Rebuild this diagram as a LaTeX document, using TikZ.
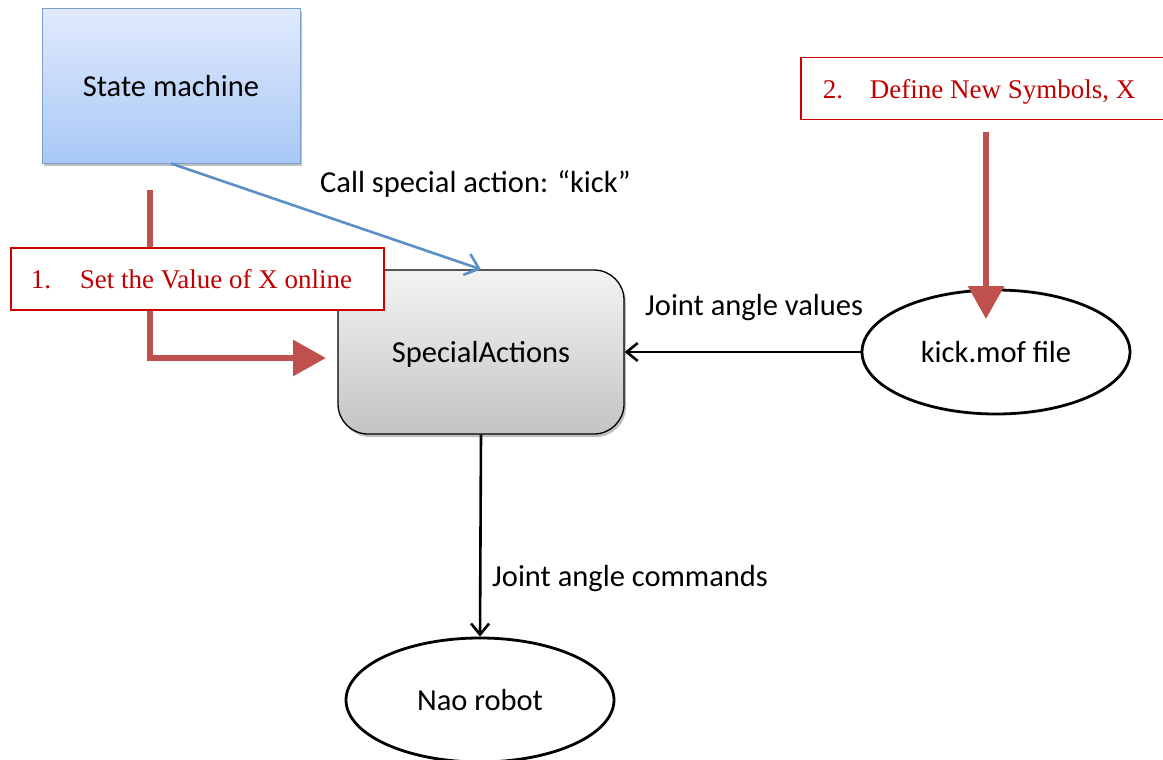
\documentclass[tikz,border=0pt]{standalone}
\usepackage{fontspec}
\setmainfont{Carlito}
\newfontfamily\notefont{Liberation Serif}
\usetikzlibrary{arrows.meta,shapes.geometric,shadows}

\definecolor{smtop}{HTML}{E0EAFC}
\definecolor{smbot}{HTML}{A9C8F6}
\definecolor{smline}{HTML}{7C9FD2}
\definecolor{satop}{HTML}{F3F3F3}
\definecolor{sabot}{HTML}{C4C4C4}
\definecolor{callblue}{HTML}{5B8FC7}
\definecolor{stepred}{HTML}{C0504D}
\definecolor{noteline}{HTML}{CC0000}
\definecolor{notetext}{HTML}{C00000}

\tikzset{
  txt/.style={font=\fontsize{30.5}{36}\selectfont, inner sep=0pt},
  boxtxt/.style={txt, text depth=0pt},
  softshadow/.style={drop shadow={shadow xshift=2pt, shadow yshift=-3pt, opacity=0.25, fill=black}},
  modulebox/.style={draw=smline, line width=1pt, top color=smtop, bottom color=smbot,
    minimum width=258pt, minimum height=154pt, softshadow, boxtxt},
  actionbox/.style={draw=black, line width=1.3pt, rounded corners=30pt, top color=satop,
    bottom color=sabot, minimum width=286pt, minimum height=164pt, softshadow, boxtxt},
  oval/.style={ellipse, draw=black, line width=2.8pt, fill=white,
    minimum width=268pt, minimum height=124pt, boxtxt},
  notebox/.style={draw=noteline, line width=1.8pt, fill=white, text=notetext,
    font=\notefont\fontsize{27}{31}\selectfont, minimum height=62pt,
    inner ysep=0pt, text depth=0pt, anchor=west},
  flow/.style={draw=black, line width=2.6pt, -{Straight Barb[length=11pt,width=18pt,line width=2.6pt]}},
  callflow/.style={draw=callblue, line width=2.6pt, -{Straight Barb[length=13pt,width=22pt,line width=2.6pt]}},
  stepflow/.style={draw=stepred, line width=6pt, -{Triangle[length=33pt,width=35pt]}},
}

\begin{document}
\begin{tikzpicture}[x=1pt,y=-1pt]
\useasboundingbox (0,0) rectangle (1163,760);
\clip (0,0) rectangle (1163,760);

% main blocks
\node[modulebox] (sm) at (171,86) {State machine};
\node[actionbox] (sa) at (481,352) {SpecialActions};
\node[oval] (kick) at (996,352) {kick.mof file};
\node[oval] (nao) at (480,700) {Nao robot};

% red step annotations
\coordinate (r1start) at (150,190);
\coordinate (r1end) at (326,358);
\draw[stepflow] (r1start) |- (r1end);
\node[notebox, inner xsep=20pt] (set) at (10,279)
  {\makebox[333pt][l]{\makebox[49pt][l]{1.}Set the Value of X online}};

\node[notebox, inner xsep=22pt] (def) at (800,88.5)
  {\makebox[360pt][l]{\makebox[47pt][l]{2.}Define New Symbols, X}};
\coordinate (r2start) at (986,132);
\coordinate (r2end) at (986,319);
\draw[stepflow] (r2start) -- (r2end);

% connectors
\draw[callflow] (sm.south) -- (sa.north);
\draw[flow] (kick.west) -- (sa.east);
\draw[flow] (sa.south) -- (nao.north);

% connector labels
\node[txt, anchor=west] (lcall) at (320,184) {Call special action: “kick”};
\node[txt, anchor=west] (lvals) at (645,308) {Joint angle values};
\node[txt, anchor=west] (lcmds) at (492,579) {Joint angle commands};
\end{tikzpicture}
\end{document}
